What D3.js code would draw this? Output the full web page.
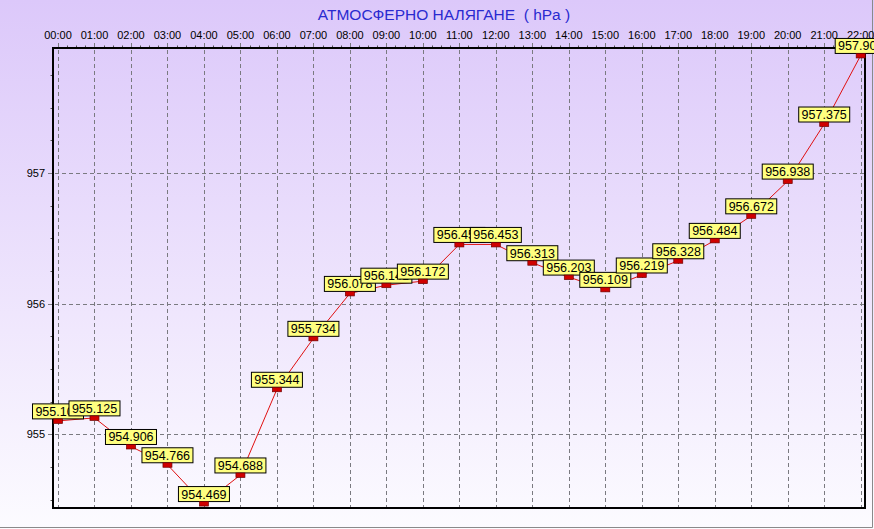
<!DOCTYPE html>
<html>
<head>
<meta charset="utf-8">
<script src="https://cdn.jsdelivr.net/npm/d3@7"></script>
<style>
  body { margin: 0; overflow: hidden; }
  svg { display: block; font-family: "Liberation Sans", Arial, sans-serif; }
</style>
</head>
<body>
<svg width="874" height="529"></svg>
<script>
const hours = ["00:00","01:00","02:00","03:00","04:00","05:00","06:00","07:00","08:00","09:00","10:00","11:00",
               "12:00","13:00","14:00","15:00","16:00","17:00","18:00","19:00","20:00","21:00","22:00"];
const pressure = [955.102, 955.125, 954.906, 954.766, 954.469, 954.688, 955.344, 955.734, 956.078, 956.141,
                  956.172, 956.453, 956.453, 956.313, 956.203, 956.109, 956.219, 956.328, 956.484, 956.672,
                  956.938, 957.375, 957.900];
const yTicks = [955, 956, 957];
const title = "АТМОСФЕРНО НАЛЯГАНЕ  ( hPa )";

const W = 874, H = 529;
const plot = { left: 53, top: 48, right: 865, bottom: 508 };

const svg = d3.select("svg");

// background gradient
const defs = svg.append("defs");
const grad = defs.append("linearGradient").attr("id", "bg")
    .attr("x1", 0).attr("y1", 0).attr("x2", 0).attr("y2", 1);
grad.append("stop").attr("offset", "0%").attr("stop-color", "#dcc8fa");
grad.append("stop").attr("offset", "100%").attr("stop-color", "#fcfbff");

svg.append("rect").attr("width", W).attr("height", H).attr("fill", "url(#bg)");
// panel border (right/bottom)
svg.append("path")
   .attr("d", `M0,${H - 1.5}H${W - 1.5}V0`)
   .attr("fill", "none").attr("stroke", "#8a8a8a").attr("stroke-width", 1);

const x = d3.scalePoint().domain(hours).range([58, 860.7]);
const y = d3.scaleLinear().domain([954.435, 957.957]).range([plot.bottom, plot.top]);

// title
svg.append("text")
   .attr("x", 444).attr("y", 20)
   .attr("text-anchor", "middle")
   .attr("font-size", 15.5)
   .attr("fill", "#2a2ad0")
   .style("white-space", "pre")
   .text(title);

// grid
const grid = svg.append("g").attr("stroke", "#7a7a80").attr("stroke-width", 1)
                .attr("stroke-dasharray", "4,3");
grid.selectAll("line.v").data(hours).enter().append("line")
    .attr("class", "v")
    .attr("x1", d => Math.round(x(d)) + 0.5).attr("x2", d => Math.round(x(d)) + 0.5)
    .attr("y1", plot.top - 5).attr("y2", plot.bottom);
grid.selectAll("line.h").data(yTicks).enter().append("line")
    .attr("class", "h")
    .attr("x1", plot.left - 5).attr("x2", plot.right)
    .attr("y1", d => Math.round(y(d)) + 0.5).attr("y2", d => Math.round(y(d)) + 0.5);

// minor ticks on top axis (quarter hours)
const step = x.step();
const topMinor = [];
hours.slice(0, -1).forEach(h => { for (let k = 1; k < 4; k++) topMinor.push(x(h) + k * step / 4); });
svg.append("g").selectAll("line").data(topMinor).enter().append("line")
   .attr("x1", d => Math.round(d) + 0.5).attr("x2", d => Math.round(d) + 0.5)
   .attr("y1", plot.top - 2.5).attr("y2", plot.top)
   .attr("stroke", "#555");

// minor ticks on left axis (0.25 hPa)
const leftMinor = d3.range(954.5, 957.9, 0.25).filter(v => Math.abs(v - Math.round(v)) > 0.01);
svg.append("g").selectAll("line").data(leftMinor).enter().append("line")
   .attr("x1", plot.left - 2.5).attr("x2", plot.left)
   .attr("y1", d => Math.round(y(d)) + 0.5).attr("y2", d => Math.round(y(d)) + 0.5)
   .attr("stroke", "#555");

svg.append("g").selectAll("text").data(hours).enter().append("text")
   .attr("x", d => x(d)).attr("y", 39)
   .attr("text-anchor", "middle").attr("font-size", 11).attr("fill", "#000")
   .text(d => d);

svg.append("g").selectAll("text").data(yTicks).enter().append("text")
   .attr("x", 45).attr("y", d => y(d) + 4)
   .attr("text-anchor", "end").attr("font-size", 11).attr("fill", "#000")
   .text(d => d);

// frame
svg.append("rect")
   .attr("x", plot.left).attr("y", plot.top)
   .attr("width", plot.right - plot.left).attr("height", plot.bottom - plot.top)
   .attr("fill", "none").attr("stroke", "#000").attr("stroke-width", 2);

// series line
const pts = hours.map((h, i) => ({ h, v: pressure[i] }));
svg.append("path").datum(pts)
   .attr("d", d3.line().x(d => x(d.h)).y(d => y(d.v)))
   .attr("fill", "none").attr("stroke", "#e01010").attr("stroke-width", 1);

// markers + value labels (later ones drawn on top)
const bw = 51, bh = 15;
const pg = svg.append("g").selectAll("g").data(pts).enter().append("g")
   .attr("transform", d => `translate(${x(d.h)},${y(d.v)})`);

pg.append("rect")
  .attr("x", -bw / 2).attr("y", -2 - bh).attr("width", bw).attr("height", bh)
  .attr("fill", "#ffff80").attr("stroke", "#000").attr("stroke-width", 1);
pg.append("text")
  .attr("x", 0).attr("y", -2 - bh + 12)
  .attr("text-anchor", "middle").attr("font-size", 12.5).attr("fill", "#000")
  .text(d => d.v.toFixed(3));
pg.append("rect")
  .attr("x", -4.5).attr("y", -2).attr("width", 9).attr("height", 4.5)
  .attr("fill", "#d00000").attr("stroke", "#700000").attr("stroke-width", 0.7);
</script>
</body>
</html>
